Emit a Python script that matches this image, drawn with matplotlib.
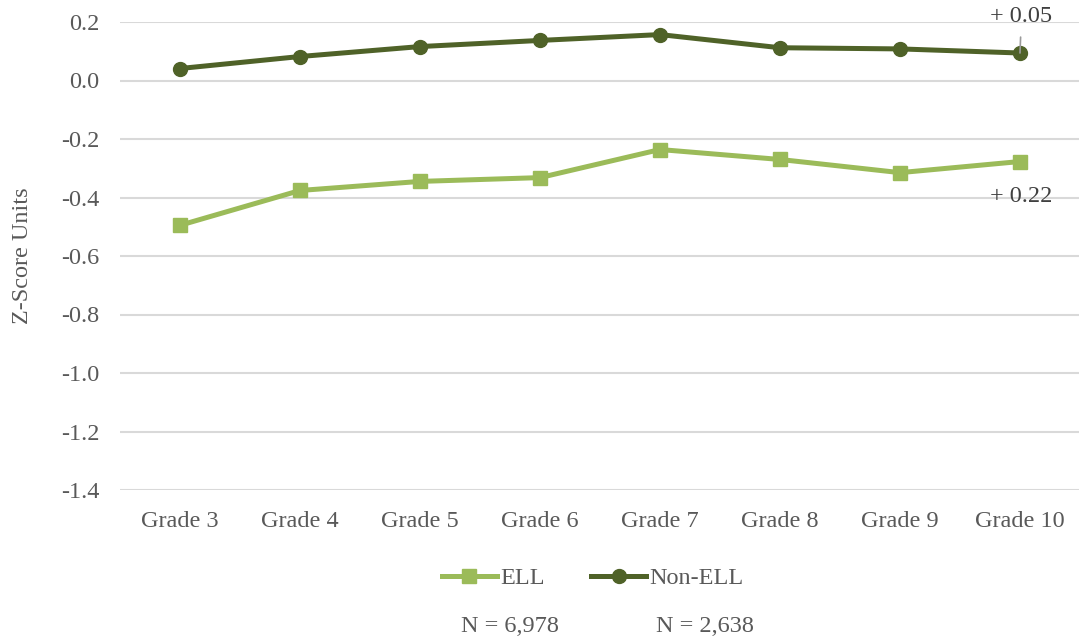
import matplotlib
matplotlib.use("Agg")
import matplotlib.pyplot as plt
from matplotlib.lines import Line2D

grades = ["Grade 3", "Grade 4", "Grade 5", "Grade 6", "Grade 7", "Grade 8", "Grade 9", "Grade 10"]
ell = [-0.495, -0.376, -0.345, -0.332, -0.236, -0.270, -0.315, -0.277]
non_ell = [0.041, 0.082, 0.116, 0.137, 0.157, 0.112, 0.108, 0.094]
yticks = [0.2, 0.0, -0.2, -0.4, -0.6, -0.8, -1.0, -1.2, -1.4]
ell_label = "+ 0.22"
non_ell_label = "+ 0.05"
n_labels = ["N = 6,978", "N = 2,638"]

plt.rcParams['font.family'] = ['Liberation Serif', 'DejaVu Serif']
TXT = "#595959"
ELL_C = "#9BBB59"
NON_C = "#4F6228"
FS = 17.5

fig = plt.figure(figsize=(10.79, 6.41), dpi=100)
ax = fig.add_axes([120/1079, 1-490/641, (1080-120)/1079, (490-22)/641])

x = list(range(len(grades)))
ax.plot(x, ell, color=ELL_C, lw=3.6, marker='s', ms=10, label="ELL", zorder=3)
ax.plot(x, non_ell, color=NON_C, lw=3.6, marker='o', ms=10, label="Non-ELL", zorder=3)

ax.set_xlim(-0.5, len(grades)-0.5)
ax.set_ylim(-1.4, 0.2)
ax.set_yticks(yticks)
ax.set_yticklabels([f"{v:.1f}" for v in yticks])
ax.set_xticks(x)
ax.set_xticklabels(grades)
ax.tick_params(axis='both', length=0, labelsize=FS, colors=TXT)
ax.tick_params(axis='y', pad=15)
ax.tick_params(axis='x', pad=15)
ax.grid(axis='y', color='#D9D9D9', lw=1.5)
ax.set_axisbelow(True)
for s in ax.spines.values():
    s.set_visible(False)

ax.set_ylabel("Z-Score Units", fontsize=FS, color=TXT, labelpad=20)

# annotations
last = len(grades)-1
ax.annotate(non_ell_label, xy=(last, non_ell[-1]), xytext=(1, 26), textcoords='offset points',
            ha='center', va='center', fontsize=FS, color='#404040',
            arrowprops=dict(arrowstyle='-', color='#9A9A9A', lw=1.2, shrinkA=5, shrinkB=0),
            annotation_clip=False, zorder=5)
ax.annotate(ell_label, xy=(last, ell[-1]), xytext=(1, -25), textcoords='offset points',
            ha='center', va='center', fontsize=FS, color='#404040', annotation_clip=False)

handles = [Line2D([0], [0], color=ELL_C, lw=3.6, marker='s', ms=10),
           Line2D([0], [0], color=NON_C, lw=3.6, marker='o', ms=10)]
fig.legend(handles, ["ELL", "Non-ELL"], loc='center', bbox_to_anchor=(593/1079, 1-578/641),
           ncol=2, frameon=False, fontsize=FS, labelcolor=TXT, handlelength=2.25,
           handletextpad=0.15, columnspacing=1.9)

fig.text(510/1079, 1-626/641, n_labels[0], ha='center', va='center', fontsize=FS, color=TXT)
fig.text(705/1079, 1-626/641, n_labels[1], ha='center', va='center', fontsize=FS, color=TXT)

fig.savefig("out.png", dpi=100)
